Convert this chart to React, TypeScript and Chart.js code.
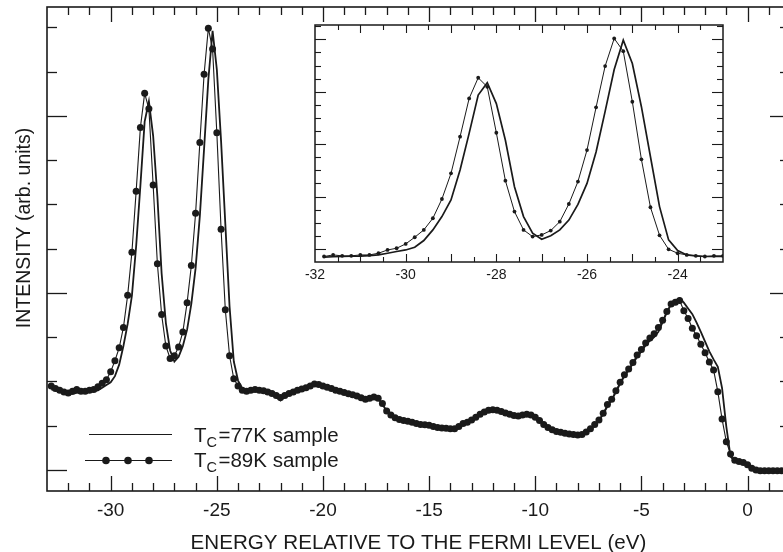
import { useEffect, useRef } from 'react';
import { Chart, registerables } from 'chart.js';

Chart.register(...registerables);

const INK = '#1a1a1a';
const FONT = '"Liberation Sans", Arial, Helvetica, sans-serif';

// ---------- main panel data (energy in eV, intensity in arb. units) ----------
const energy = [
  -32.8, -32.6, -32.4, -32.2, -32.0, -31.8, -31.6, -31.4, -31.2, -31.0,
  -30.8, -30.6, -30.4, -30.2, -30.0, -29.8, -29.6, -29.4, -29.2, -29.0,
  -28.8, -28.6, -28.4, -28.2, -28.0, -27.8, -27.6, -27.4, -27.2, -27.0,
  -26.8, -26.6, -26.4, -26.2, -26.0, -25.8, -25.6, -25.4, -25.2, -25.0,
  -24.8, -24.6, -24.4, -24.2, -24.0, -23.8, -23.6, -23.4, -23.2, -23.0,
  -22.8, -22.6, -22.4, -22.2, -22.0, -21.8, -21.6, -21.4, -21.2, -21.0,
  -20.8, -20.6, -20.4, -20.2, -20.0, -19.8, -19.6, -19.4, -19.2, -19.0,
  -18.8, -18.6, -18.4, -18.2, -18.0, -17.8, -17.6, -17.4, -17.2, -17.0,
  -16.8, -16.6, -16.4, -16.2, -16.0, -15.8, -15.6, -15.4, -15.2, -15.0,
  -14.8, -14.6, -14.4, -14.2, -14.0, -13.8, -13.6, -13.4, -13.2, -13.0,
  -12.8, -12.6, -12.4, -12.2, -12.0, -11.8, -11.6, -11.4, -11.2, -11.0,
  -10.8, -10.6, -10.4, -10.2, -10.0, -9.8, -9.6, -9.4, -9.2, -9.0,
  -8.8, -8.6, -8.4, -8.2, -8.0, -7.8, -7.6, -7.4, -7.2, -7.0,
  -6.8, -6.6, -6.4, -6.2, -6.0, -5.8, -5.6, -5.4, -5.2, -5.0,
  -4.8, -4.6, -4.4, -4.2, -4.0, -3.8, -3.6, -3.4, -3.2, -3.0,
  -2.8, -2.6, -2.4, -2.2, -2.0, -1.8, -1.6, -1.4, -1.2, -1.0,
  -0.8, -0.6, -0.4, -0.2, 0.0, 0.2, 0.4, 0.6, 0.8, 1.0,
  1.2, 1.4, 1.6,
];

const sample89K = [
  1.90, 1.84, 1.80, 1.76, 1.74, 1.78, 1.82, 1.78, 1.78, 1.80,
  1.82, 1.88, 1.96, 2.04, 2.22, 2.47, 2.76, 3.22, 3.95, 4.92,
  6.30, 7.74, 8.51, 8.16, 6.44, 4.66, 3.51, 2.80, 2.52, 2.58,
  2.78, 3.12, 3.78, 4.62, 5.80, 7.40, 8.94, 9.98, 9.51, 7.62,
  5.44, 3.62, 2.58, 2.06, 1.90, 1.80, 1.78, 1.80, 1.82, 1.80,
  1.79, 1.76, 1.73, 1.68, 1.64, 1.68, 1.73, 1.76, 1.80, 1.83,
  1.86, 1.90, 1.94, 1.93, 1.90, 1.87, 1.84, 1.80, 1.78, 1.75,
  1.72, 1.70, 1.67, 1.63, 1.60, 1.62, 1.65, 1.62, 1.50, 1.33,
  1.24, 1.18, 1.14, 1.12, 1.10, 1.08, 1.05, 1.03, 1.02, 1.01,
  0.98, 0.96, 0.95, 0.94, 0.93, 0.93, 0.98, 1.05, 1.08, 1.13,
  1.19, 1.26, 1.31, 1.35, 1.36, 1.35, 1.32, 1.29, 1.26, 1.23,
  1.22, 1.24, 1.26, 1.24, 1.19, 1.12, 1.03, 0.96, 0.91, 0.87,
  0.85, 0.83, 0.81, 0.80, 0.79, 0.80, 0.86, 0.93, 1.03, 1.13,
  1.28, 1.48, 1.60, 1.79, 1.98, 2.15, 2.28, 2.43, 2.60, 2.72,
  2.87, 2.98, 3.08, 3.22, 3.38, 3.58, 3.75, 3.79, 3.83, 3.60,
  3.42, 3.20, 3.03, 2.84, 2.65, 2.44, 2.26, 1.77, 1.15, 0.64,
  0.36, 0.22, 0.19, 0.17, 0.12, 0.04, 0.00, -0.02, -0.02, -0.02,
  -0.02, -0.02, -0.02,
];

const sample77K = [
  1.82, 1.80, 1.77, 1.74, 1.72, 1.72, 1.74, 1.75, 1.76, 1.76,
  1.78, 1.80, 1.86, 1.92, 1.98, 2.12, 2.38, 2.80, 3.30, 3.94,
  5.06, 6.43, 7.87, 8.33, 7.55, 6.18, 4.44, 3.32, 2.70, 2.45,
  2.56, 2.80, 3.17, 3.76, 4.56, 5.74, 7.26, 8.82, 9.92, 9.05,
  7.43, 5.56, 3.69, 2.45, 2.02, 1.84, 1.80, 1.78, 1.80, 1.80,
  1.78, 1.75, 1.72, 1.64, 1.57, 1.66, 1.72, 1.76, 1.79, 1.82,
  1.85, 1.88, 1.92, 1.92, 1.90, 1.87, 1.83, 1.80, 1.77, 1.74,
  1.71, 1.69, 1.66, 1.62, 1.60, 1.62, 1.64, 1.61, 1.49, 1.32,
  1.23, 1.17, 1.13, 1.11, 1.09, 1.07, 1.04, 1.02, 1.01, 1.00,
  0.97, 0.95, 0.94, 0.93, 0.92, 0.93, 0.97, 1.04, 1.08, 1.13,
  1.19, 1.26, 1.31, 1.35, 1.36, 1.35, 1.32, 1.29, 1.26, 1.23,
  1.22, 1.24, 1.25, 1.23, 1.18, 1.11, 1.02, 0.95, 0.90, 0.86,
  0.84, 0.82, 0.80, 0.79, 0.78, 0.79, 0.85, 0.92, 1.02, 1.12,
  1.26, 1.44, 1.58, 1.76, 1.95, 2.12, 2.26, 2.40, 2.56, 2.68,
  2.82, 2.92, 3.00, 3.12, 3.34, 3.56, 3.74, 3.80, 3.88, 3.78,
  3.65, 3.52, 3.33, 3.12, 2.90, 2.68, 2.50, 2.33, 1.85, 0.98,
  0.30, 0.20, 0.18, 0.16, 0.11, 0.03, -0.01, -0.03, -0.03, -0.03,
  -0.03, -0.03, -0.03,
];

// ---------- inset data ----------
const insetEnergy = [
  -31.8, -31.6, -31.4, -31.2, -31.0, -30.8, -30.6, -30.4, -30.2, -30.0,
  -29.8, -29.6, -29.4, -29.2, -29.0, -28.8, -28.6, -28.4, -28.2, -28.0,
  -27.8, -27.6, -27.4, -27.2, -27.0, -26.8, -26.6, -26.4, -26.2, -26.0,
  -25.8, -25.6, -25.4, -25.2, -25.0, -24.8, -24.6, -24.4, -24.2, -24.0,
  -23.8, -23.6, -23.4, -23.2, -23.0,
];

const inset89K = [
  -0.58, -0.46, -0.53, -0.53, -0.46, -0.46, -0.33, -0.08, 0.05, 0.38,
  0.89, 1.45, 2.34, 3.81, 5.77, 8.57, 11.49, 13.07, 12.38, 8.87,
  5.21, 2.85, 1.45, 0.94, 1.07, 1.40, 2.08, 3.43, 5.14, 7.55,
  10.81, 13.96, 16.07, 15.10, 11.24, 6.84, 3.18, 1.04, -0.03, -0.33,
  -0.46, -0.53, -0.58, -0.53, -0.53,
];

const inset77K = [
  -0.63, -0.60, -0.58, -0.56, -0.55, -0.52, -0.46, -0.33, -0.20, -0.08,
  0.13, 0.64, 1.45, 2.47, 3.74, 6.03, 8.82, 11.75, 12.69, 11.10,
  8.30, 4.75, 2.47, 1.20, 0.74, 1.00, 1.45, 2.20, 3.40, 5.00,
  7.40, 10.50, 13.70, 15.94, 14.16, 10.86, 7.04, 3.23, 0.69, -0.13,
  -0.46, -0.53, -0.58, -0.58, -0.58,
];

const mainXTickLabels = [-30, -25, -20, -15, -10, -5, 0];
const insetXTickLabels = [-32, -30, -28, -26, -24];
const legendLabels = [
  { sub: 'C', rest: '=77K sample' },
  { sub: 'C', rest: '=89K sample' },
];

function pts(xs: number[], ys: number[]) {
  return xs.map((x, i) => ({ x, y: ys[i] }));
}

function line(ctx: CanvasRenderingContext2D, x1: number, y1: number, x2: number, y2: number) {
  ctx.beginPath();
  ctx.moveTo(x1, y1);
  ctx.lineTo(x2, y2);
  ctx.stroke();
}

const mainDecor = {
  id: 'mainDecor',
  afterDatasetsDraw(chart: any) {
    const { ctx, chartArea: a, scales } = chart;
    const x = scales.x;
    const y = scales.y;
    ctx.save();
    ctx.strokeStyle = INK;
    ctx.lineWidth = 1.6;
    ctx.strokeRect(a.left, a.top, a.right - a.left, a.bottom - a.top);
    ctx.lineWidth = 1.3;
    for (let v = -32; v <= 1; v++) {
      const px = Math.round(x.getPixelForValue(v)) + 0.5;
      const len = v % 5 === 0 ? 15 : 8;
      line(ctx, px, a.bottom, px, a.bottom - len);
      line(ctx, px, a.top, px, a.top + len);
    }
    for (let v = 0; v <= 10; v++) {
      const py = Math.round(y.getPixelForValue(v)) + 0.5;
      const len = v % 4 === 0 ? 20 : 10;
      line(ctx, a.left, py, a.left + len, py);
      line(ctx, a.right, py, a.right - len, py);
    }
    // y axis title
    ctx.fillStyle = INK;
    ctx.font = `19.5px ${FONT}`;
    ctx.translate(30, 228);
    ctx.rotate(-Math.PI / 2);
    ctx.textAlign = 'center';
    ctx.textBaseline = 'alphabetic';
    ctx.fillText('INTENSITY (arb. units)', 0, 0);
    ctx.restore();

    // legend
    ctx.save();
    ctx.strokeStyle = INK;
    ctx.fillStyle = INK;
    ctx.lineWidth = 1.2;
    line(ctx, 89, 434.5, 172, 434.5);
    line(ctx, 85, 460.5, 172, 460.5);
    [106, 128, 149].forEach((cx) => {
      ctx.beginPath();
      ctx.arc(cx, 460.5, 3.8, 0, Math.PI * 2);
      ctx.fill();
    });
    const baselines = [442, 467];
    legendLabels.forEach((l, i) => {
      let tx = 194;
      ctx.font = `20.5px ${FONT}`;
      ctx.textBaseline = 'alphabetic';
      ctx.textAlign = 'left';
      ctx.fillText('T', tx, baselines[i]);
      tx += ctx.measureText('T').width;
      ctx.font = `14.5px ${FONT}`;
      ctx.fillText(l.sub, tx, baselines[i] + 5);
      tx += ctx.measureText(l.sub).width + 1.5;
      ctx.font = `20.5px ${FONT}`;
      ctx.fillText(l.rest, tx, baselines[i]);
    });
    ctx.restore();
  },
};

const insetDecor = {
  id: 'insetDecor',
  beforeDraw(chart: any) {
    const { ctx, chartArea: a } = chart;
    ctx.save();
    ctx.fillStyle = '#ffffff';
    ctx.fillRect(a.left, a.top, a.right - a.left, a.bottom - a.top);
    ctx.restore();
  },
  afterDatasetsDraw(chart: any) {
    const { ctx, chartArea: a, scales } = chart;
    const x = scales.x;
    const y = scales.y;
    ctx.save();
    ctx.strokeStyle = INK;
    ctx.lineWidth = 1.5;
    ctx.strokeRect(a.left, a.top, a.right - a.left, a.bottom - a.top);
    ctx.lineWidth = 1.1;
    for (let v = -31.5; v <= -23.5; v += 0.5) {
      const px = Math.round(x.getPixelForValue(v)) + 0.5;
      const len = Number.isInteger(v) ? 8 : 5;
      line(ctx, px, a.bottom, px, a.bottom - len);
      line(ctx, px, a.top, px, a.top + len);
    }
    for (let v = 0; v <= 17; v++) {
      const py = Math.round(y.getPixelForValue(v)) + 0.5;
      const len = v % 4 === 0 ? 11 : 6;
      line(ctx, a.left, py, a.left + len, py);
      line(ctx, a.right, py, a.right - len, py);
    }
    ctx.restore();
  },
};

export default function App() {
  const mainRef = useRef<HTMLCanvasElement | null>(null);
  const insetRef = useRef<HTMLCanvasElement | null>(null);

  useEffect(() => {
    document.body.style.margin = '0';
    document.body.style.background = '#ffffff';
    if (!mainRef.current || !insetRef.current) return;

    const main = new Chart(mainRef.current, {
      type: 'line',
      data: {
        datasets: [
          {
            label: 'Tc=89K sample',
            data: pts(energy, sample89K),
            borderColor: INK,
            borderWidth: 1.1,
            pointRadius: 3.5,
            pointBackgroundColor: INK,
            pointBorderWidth: 0,
            tension: 0,
          },
          {
            label: 'Tc=77K sample',
            data: pts(energy, sample77K),
            borderColor: INK,
            borderWidth: 1.8,
            pointRadius: 0,
            tension: 0,
          },
        ],
      },
      options: {
        responsive: false,
        animation: false,
        events: [],
        layout: { padding: { left: 47, top: 7, right: 6, bottom: 0 } },
        plugins: { legend: { display: false }, tooltip: { enabled: false } },
        scales: {
          x: {
            type: 'linear',
            min: -33,
            max: 2,
            grid: { display: false, drawTicks: false },
            border: { display: false },
            afterBuildTicks: (s: any) => {
              s.ticks = mainXTickLabels.map((v) => ({ value: v }));
            },
            ticks: {
              padding: 8,
              color: INK,
              font: { family: FONT, size: 19 },
              maxRotation: 0,
              autoSkip: false,
              callback: (v: any) => String(v),
            },
            title: {
              display: true,
              text: 'ENERGY RELATIVE TO THE FERMI LEVEL (eV)',
              color: INK,
              font: { family: FONT, size: 20.6, lineHeight: 0.8 },
              padding: { top: 0, bottom: 0 },
            },
            afterFit: (s: any) => {
              s.height = 61;
            },
          },
          y: { display: false, min: -0.475, max: 10.46 },
        },
      },
      plugins: [mainDecor],
    } as any);

    const inset = new Chart(insetRef.current, {
      type: 'line',
      data: {
        datasets: [
          {
            label: 'Tc=89K sample',
            data: pts(insetEnergy, inset89K),
            borderColor: INK,
            borderWidth: 1,
            pointRadius: 1.9,
            pointBackgroundColor: INK,
            pointBorderWidth: 0,
            tension: 0,
          },
          {
            label: 'Tc=77K sample',
            data: pts(insetEnergy, inset77K),
            borderColor: INK,
            borderWidth: 1.7,
            pointRadius: 0,
            tension: 0,
          },
        ],
      },
      options: {
        responsive: false,
        animation: false,
        events: [],
        layout: { padding: { left: 25, top: 10, right: 17, bottom: 0 } },
        plugins: { legend: { display: false }, tooltip: { enabled: false } },
        scales: {
          x: {
            type: 'linear',
            min: -32,
            max: -23,
            grid: { display: false, drawTicks: false },
            border: { display: false },
            afterBuildTicks: (s: any) => {
              s.ticks = insetXTickLabels.map((v) => ({ value: v }));
            },
            ticks: {
              padding: 5,
              color: INK,
              font: { family: FONT, size: 14 },
              maxRotation: 0,
              autoSkip: false,
              callback: (v: any) => String(v),
            },
            afterFit: (s: any) => {
              s.height = 33;
            },
          },
          y: { display: false, min: -1, max: 17.1 },
        },
      },
      plugins: [insetDecor],
    } as any);

    return () => {
      main.destroy();
      inset.destroy();
    };
  }, []);

  return (
    <div style={{ position: 'relative', width: 783, height: 552, background: '#fff', overflow: 'hidden' }}>
      <canvas ref={mainRef} width={796} height={552} style={{ display: 'block', position: 'absolute', left: 0, top: 0 }} />
      <canvas ref={insetRef} width={450} height={280} style={{ display: 'block', position: 'absolute', left: 290, top: 15 }} />
    </div>
  );
}
